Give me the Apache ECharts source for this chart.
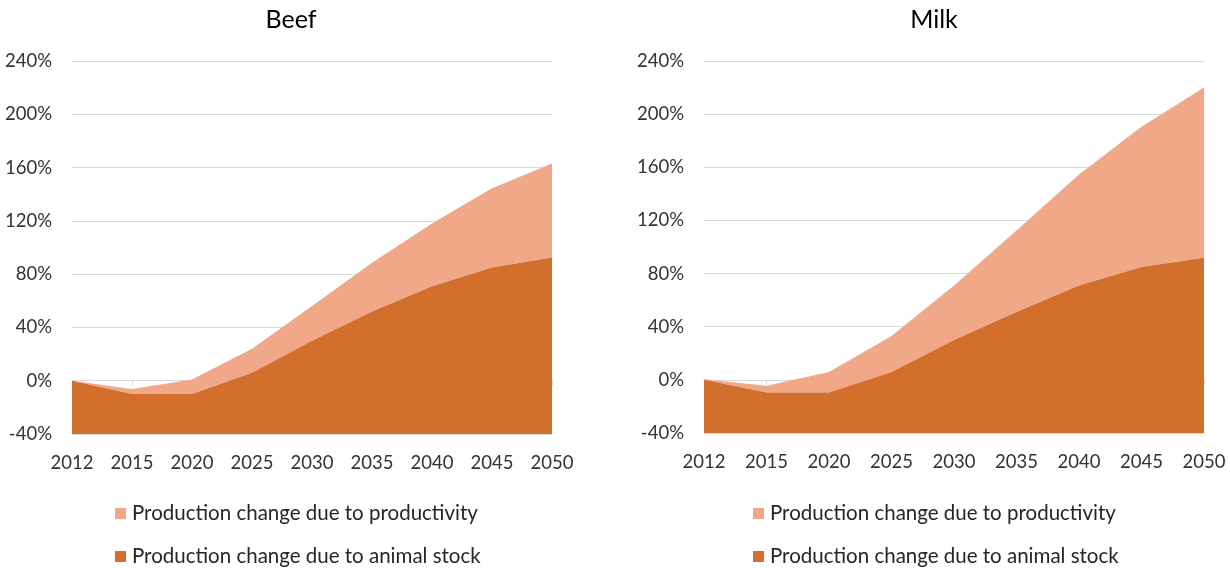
<!DOCTYPE html>
<html>
<head>
<meta charset="utf-8">
<script src="https://cdn.jsdelivr.net/npm/echarts@6/dist/echarts.min.js"></script>
<style>
  html, body { margin: 0; padding: 0; background: #ffffff; }
  #chart { width: 1230px; height: 568px; }
</style>
</head>
<body>
<div id="chart"></div>
<script>
// Years on the horizontal axis
const years = ['2012', '2015', '2020', '2025', '2030', '2035', '2040', '2045', '2050'];

// Production change (%) relative to 2012, split into its two drivers
const beefAnimalStock  = [0, -10, -10, 6, 30, 52, 71, 85, 92.5];
const beefProductivity = [0, 3.7, 11, 18, 26, 36.5, 47, 59.5, 70.5];
const milkAnimalStock  = [0, -9.5, -9.5, 6, 30, 51, 71, 85, 92];
const milkProductivity = [0.5, 5, 15.5, 27, 41, 61.5, 83.5, 105.5, 128];

// Value axis ticks
const yMin = -40, yMax = 240, yStep = 40;

const panelTitles = ['Beef', 'Milk'];
const nameProductivity = 'Production change due to productivity';
const nameAnimalStock = 'Production change due to animal stock';

const colorStock = '#D26F2C';
const colorProd = '#F0A888';
const fontFamily = 'Lato, "Open Sans", sans-serif';
const labelColor = '#333333';

const chart = echarts.init(document.getElementById('chart'), null, { renderer: 'canvas' });

function xAxisFor(gridIndex) {
  return {
    type: 'category',
    gridIndex: gridIndex,
    data: years,
    boundaryGap: false,
    axisLine: { show: true, lineStyle: { color: '#d9d9d9', width: 1 } },
    axisTick: { show: true, length: 5, lineStyle: { color: '#d9d9d9' } },
    axisLabel: { color: labelColor, fontSize: 18.5, fontFamily: fontFamily, margin: 20 },
    splitLine: { show: false }
  };
}

function yAxisFor(gridIndex) {
  return {
    type: 'value',
    gridIndex: gridIndex,
    min: yMin,
    max: yMax,
    interval: yStep,
    axisLine: { show: false },
    axisTick: { show: false },
    axisLabel: {
      color: labelColor, fontSize: 18.5, fontFamily: fontFamily, margin: 20,
      formatter: '{value}%'
    },
    splitLine: { show: true, lineStyle: { color: '#d9d9d9', width: 1 } }
  };
}

function areaSeries(name, values, idx, color, stackId, isBase) {
  const s = {
    name: name,
    type: 'line',
    xAxisIndex: idx,
    yAxisIndex: idx,
    data: values,
    stack: stackId,
    stackStrategy: 'all',
    symbol: 'none',
    silent: true,
    lineStyle: { width: 0, color: color },
    itemStyle: { color: color },
    areaStyle: { color: color, opacity: 1 },
    z: isBase ? 3 : 2
  };
  if (isBase) s.areaStyle.origin = 'start';
  return s;
}

// One legend entry per component so each panel gets its own stacked key
function legendEntry(name, left, top) {
  return {
    left: left, top: top, orient: 'vertical', padding: 0,
    itemWidth: 11, itemHeight: 11, icon: 'rect', selectedMode: false,
    textStyle: { color: '#262626', fontSize: 20.5, fontFamily: fontFamily, padding: [0, 0, 0, 1] },
    data: [name]
  };
}

const option = {
  animation: false,
  backgroundColor: '#ffffff',
  title: [
    { text: panelTitles[0], left: 286, top: 2, textAlign: 'center',
      textStyle: { color: '#000000', fontSize: 25, fontWeight: 'normal', fontFamily: fontFamily } },
    { text: panelTitles[1], left: 929, top: 2, textAlign: 'center',
      textStyle: { color: '#000000', fontSize: 25, fontWeight: 'normal', fontFamily: fontFamily } }
  ],
  legend: [
    legendEntry(nameProductivity, 115, 503),
    legendEntry(nameAnimalStock, 115, 546),
    legendEntry(nameProductivity, 753, 503),
    legendEntry(nameAnimalStock, 753, 546)
  ],
  grid: [
    { left: 72, right: 678, top: 61, bottom: 134, containLabel: false },
    { left: 704, right: 26, top: 61, bottom: 135, containLabel: false }
  ],
  xAxis: [xAxisFor(0), xAxisFor(1)],
  yAxis: [yAxisFor(0), yAxisFor(1)],
  series: [
    areaSeries(nameAnimalStock, beefAnimalStock, 0, colorStock, 'beef', true),
    areaSeries(nameProductivity, beefProductivity, 0, colorProd, 'beef', false),
    areaSeries(nameAnimalStock, milkAnimalStock, 1, colorStock, 'milk', true),
    areaSeries(nameProductivity, milkProductivity, 1, colorProd, 'milk', false)
  ]
};

chart.setOption(option);
</script>
</body>
</html>
